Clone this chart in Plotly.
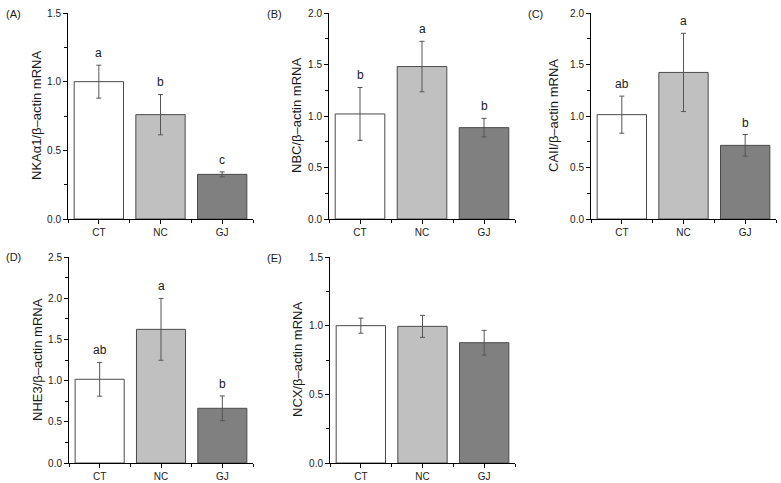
import plotly.graph_objects as go

categories = ["CT", "NC", "GJ"]
bar_colors = ["#ffffff", "#c0c0c0", "#808080"]

nka_vals = [1.00, 0.76, 0.325]
nka_err = [0.12, 0.147, 0.018]
nka_letters = ["a", "b", "c"]

nbc_vals = [1.02, 1.48, 0.887]
nbc_err = [0.257, 0.245, 0.09]
nbc_letters = ["b", "a", "b"]

ca_vals = [1.013, 1.423, 0.715]
ca_err = [0.18, 0.38, 0.105]
ca_letters = ["ab", "a", "b"]

nhe_vals = [1.016, 1.622, 0.664]
nhe_err = [0.205, 0.375, 0.15]
nhe_letters = ["ab", "a", "b"]

ncx_vals = [1.00, 0.995, 0.876]
ncx_err = [0.055, 0.08, 0.09]
ncx_letters = ["", "", ""]

panels = [
    ("(A)", "NKA\u03b11/\u03b2\u2013actin mRNA", nka_vals, nka_err, nka_letters, 1.5),
    ("(B)", "NBC/\u03b2\u2013actin mRNA", nbc_vals, nbc_err, nbc_letters, 2.0),
    ("(C)", "CAII/\u03b2\u2013actin mRNA", ca_vals, ca_err, ca_letters, 2.0),
    ("(D)", "NHE3/\u03b2\u2013actin mRNA", nhe_vals, nhe_err, nhe_letters, 2.5),
    ("(E)", "NCX/\u03b2\u2013actin mRNA", ncx_vals, ncx_err, ncx_letters, 1.5),
]

W, H = 781, 483
# pixel boxes (left, right, top, bottom)
boxes = [
    (68, 253, 13, 219),
    (329, 515, 13, 219),
    (591, 776, 13, 219),
    (69, 253, 257, 463),
    (330, 515, 257, 463),
]
label_pos = [(4, 14), (265, 14), (526, 14), (4, 257), (265, 258)]
title_x = [36, 296, 553, 37, 297]

FONT = "Liberation Sans, Arial, sans-serif"
TXT = "#1a1a1a"

fig = go.Figure()
layout = dict(
    width=W, height=H, margin=dict(l=0, r=0, t=0, b=0),
    paper_bgcolor="white", plot_bgcolor="white", showlegend=False,
    font=dict(family=FONT, color=TXT, size=10),
)
annotations = []
xpos = list(range(len(categories)))

for i, (lab, title, vals, errs, letters, ymax) in enumerate(panels):
    n = i + 1
    xa = "x" if n == 1 else f"x{n}"
    ya = "y" if n == 1 else f"y{n}"
    fig.add_trace(go.Bar(
        x=xpos, y=vals, xaxis=xa, yaxis=ya, width=0.8,
        marker=dict(color=bar_colors, line=dict(color="#4a4a4a", width=1)),
        error_y=dict(type="data", array=errs, visible=True,
                     color="#555555", thickness=1, width=2.5),
    ))
    l, r, t, b = boxes[i]
    dom_x = [l / W, r / W]
    dom_y = [1 - b / H, 1 - t / H]
    layout[f"xaxis{n}" if n > 1 else "xaxis"] = dict(
        domain=dom_x, anchor=ya, range=[-0.5, 2.5], automargin=False,
        tickmode="array", tickvals=xpos, ticktext=categories,
        showline=True, linecolor="black", linewidth=1,
        ticks="outside", ticklen=4, tickcolor="black", tickwidth=1,
        minor=dict(tick0=-0.5, dtick=1, ticks="outside", ticklen=3,
                   tickcolor="black", tickwidth=1, showgrid=False),
        showgrid=False, zeroline=False, fixedrange=True,
        tickfont=dict(size=10, family=FONT, color=TXT),
    )
    layout[f"yaxis{n}" if n > 1 else "yaxis"] = dict(
        domain=dom_y, anchor=xa, range=[0, ymax], automargin=False,
        tick0=0, dtick=0.5, tickformat=".1f",
        showline=True, linecolor="black", linewidth=1,
        ticks="outside", ticklen=4, tickcolor="black", tickwidth=1,
        minor=dict(dtick=0.25, ticks="outside", ticklen=3,
                   tickcolor="black", tickwidth=1, showgrid=False),
        showgrid=False, zeroline=False, fixedrange=True,
        tickfont=dict(size=10, family=FONT, color=TXT),
    )
    for j, letter in enumerate(letters):
        if letter:
            annotations.append(dict(
                x=xpos[j], y=vals[j] + errs[j], xref=xa, yref=ya,
                text=letter, showarrow=False, yanchor="bottom", yshift=3,
                font=dict(size=12, family=FONT, color=TXT),
            ))
    # y-axis title
    annotations.append(dict(
        x=title_x[i] / W, y=(dom_y[0] + dom_y[1]) / 2, xref="paper", yref="paper",
        text=title, showarrow=False, textangle=-90,
        xanchor="center", yanchor="middle",
        font=dict(size=13, family=FONT, color=TXT),
    ))
    lx, ly = label_pos[i]
    annotations.append(dict(
        x=lx / W, y=1 - ly / H, xref="paper", yref="paper",
        text=lab, showarrow=False, xanchor="left", yanchor="middle",
        font=dict(size=11, family=FONT, color=TXT),
    ))

layout["annotations"] = annotations
fig.update_layout(**layout)
fig.write_html(
    "out.html",
    config={"displayModeBar": False, "staticPlot": True},
    post_script="document.body.style.margin='0';document.body.style.overflow='hidden';",
)
